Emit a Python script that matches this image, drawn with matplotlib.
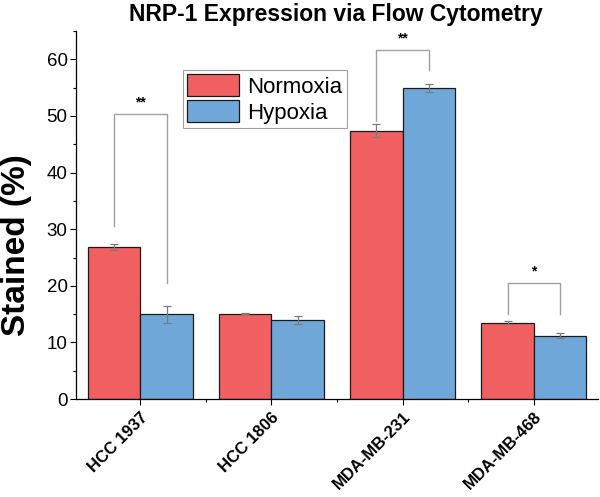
import matplotlib
matplotlib.use("Agg")
import matplotlib.pyplot as plt
import numpy as np
from matplotlib.ticker import MultipleLocator, FixedLocator

plt.rcParams['font.family'] = ['Liberation Sans', 'DejaVu Sans']

categories = ["HCC 1937", "HCC 1806", "MDA-MB-231", "MDA-MB-468"]
normoxia = [26.8, 15.1, 47.4, 13.5]
normoxia_err = [0.5, 0.1, 1.2, 0.3]
hypoxia = [15.0, 14.0, 55.0, 11.2]
hypoxia_err = [1.5, 0.7, 0.7, 0.5]

# significance brackets: (category index, left low, right low, top, label)
sig = [(0, 30.6, 20.5, 50.4, "**"),
       (2, 49.1, 58.2, 61.7, "**"),
       (3, 15.0, 15.0, 20.5, "*")]

fig = plt.figure(figsize=(6.0, 4.97), dpi=100)
ax = fig.add_axes([0.1267, 0.197, 0.87, 0.7406])

x = np.arange(len(categories))
w = 0.4
err_kw = dict(ecolor="#7a7a7a", elinewidth=0.9, capsize=3, capthick=0.9)
ax.bar(x - w/2, normoxia, w, yerr=normoxia_err, color="#F06060",
       edgecolor="#1a1a1a", linewidth=0.9, label="Normoxia", error_kw=err_kw)
ax.bar(x + w/2, hypoxia, w, yerr=hypoxia_err, color="#6FA8D8",
       edgecolor="#1a1a1a", linewidth=0.9, label="Hypoxia", error_kw=err_kw)

for i, lo_l, lo_r, top, lab in sig:
    xl, xr = i - w/2, i + w/2
    ax.plot([xl, xl, xr, xr], [lo_l, top, top, lo_r], color="#a0a0a0", lw=1.0)
    ax.text(i, top + 0.8, lab, ha="center", va="bottom", fontsize=10, fontweight="bold")

ax.set_xlim(-0.49, 3.49)
ax.set_ylim(0, 65)
ax.yaxis.set_major_locator(FixedLocator([0, 10, 20, 30, 40, 50, 60]))
ax.yaxis.set_minor_locator(MultipleLocator(5))
ax.set_xticks(x)
ax.set_xticks([0.5, 1.5, 2.5], minor=True)
ax.set_xticklabels(categories, rotation=45, ha="right", rotation_mode="anchor",
                   fontsize=12, fontweight="bold")
ax.tick_params(axis="y", labelsize=13.5, direction="out", length=4, width=0.8, pad=2)
ax.tick_params(axis="y", which="minor", length=2.5, width=0.8)
ax.tick_params(axis="x", which="major", length=4, width=0.8)
ax.tick_params(axis="x", which="minor", length=2.5, width=0.8)
for s in ["top", "right"]:
    ax.spines[s].set_visible(False)
for s in ["left", "bottom"]:
    ax.spines[s].set_linewidth(0.9)

fig.text(17 / 600, 1 - 245 / 497, "Stained (%)", rotation=90, ha="center", va="center",
         fontsize=24, fontweight="bold")
fig.text(0.56, 0.994, "NRP-1 Expression via Flow Cytometry", ha="center", va="top",
         fontsize=16.5, fontweight="bold")

leg = ax.legend(loc="upper left", bbox_to_anchor=(0.205, 0.894), fontsize=16,
                frameon=True, fancybox=False, edgecolor="#888888",
                handlelength=2.3, handleheight=1.1, borderpad=0.2,
                labelspacing=0.12, handletextpad=0.4, borderaxespad=0)
leg.get_frame().set_linewidth(0.8)

fig.savefig("out.png", dpi=100)
